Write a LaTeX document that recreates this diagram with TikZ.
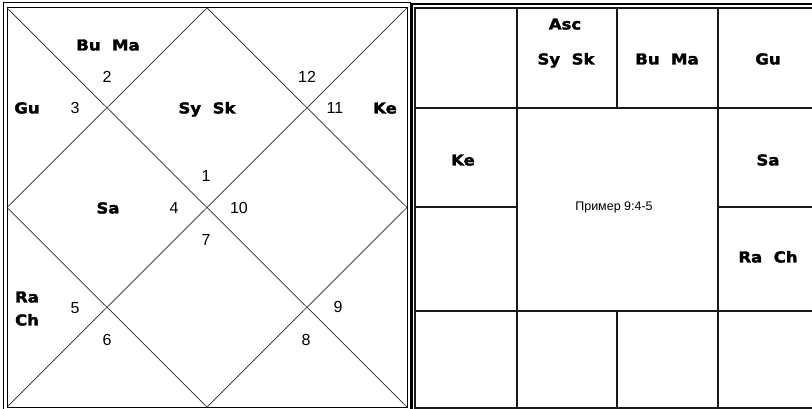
\documentclass[tikz,border=0pt]{standalone}
\usepackage{fontspec}
\setmainfont{Liberation Sans}
\newfontfamily\heavy{DejaVu Sans Bold}[FakeBold=2, FakeStretch=1.1]
\begin{document}
\begin{tikzpicture}[x=1pt, y=-1pt,
  frame/.style={line width=1pt, black},
  diag/.style={line width=0.7pt, black!85},
  grid/.style={line width=1.3pt, black!90},
  planet/.style={font=\heavy\fontsize{15}{15}\selectfont, inner sep=0pt, text height=10.9pt, text depth=0pt},
  num/.style={font=\fontsize{16}{16}\selectfont, inner sep=0pt, text height=11.5pt, text depth=0pt}]
\useasboundingbox (0,0) rectangle (812,409);
% north chart
\draw[frame] (3,3) rectangle (410,414);
\draw[frame] (7,8) rectangle (407,407);
\draw[diag] (7,8) -- (407,407) (407,8) -- (7,407);
\draw[diag] (207,8) -- (407,207.5) -- (207,407) -- (7,207.5) -- cycle;
\foreach \h/\x/\y in {1/206/176, 2/107/77, 3/75/108, 4/174/208, 5/75/308, 6/107/340,
                      7/206/240, 8/306/340, 9/338/307, 10/239/208, 11/335/108, 12/307/77}
  \node[num] (h\h) at (\x,\y) {\h};
\node[planet] (nbuma) at (108,45) {Bu~~Ma};
\node[planet] (ngu) at (27,108) {Gu};
\node[planet] (nsysk) at (207,108) {Sy~~Sk};
\node[planet] (nke) at (385,108) {Ke};
\node[planet] (nsa) at (108,208) {Sa};
\node[planet] (nra) at (27,297) {Ra};
\node[planet] (nch) at (27,320) {Ch};
% south chart
\draw[line width=1.4pt] (412,4) rectangle (840,430);
\draw[grid] (415,8) rectangle (830,408);
\foreach \y in {108,311}
  \draw[grid] (415,\y) -- (830,\y);
\foreach \x in {517,718}
  \draw[grid] (\x,8) -- (\x,408);
\draw[grid] (617,8) -- (617,108) (617,311) -- (617,408);
\draw[grid] (415,207) -- (517,207) (718,207) -- (830,207);
\node[planet] (sasc) at (565,24) {Asc};
\node[planet] (ssysk) at (566,59) {Sy~~Sk};
\node[planet] (sbuma) at (667,59) {Bu~~Ma};
\node[planet] (sgu) at (768,59) {Gu};
\node[planet] (ske) at (463,160) {Ke};
\node[planet] (ssa) at (768,160) {Sa};
\node[planet] (srach) at (768,257) {Ra~~Ch};
\node[font=\fontsize{12.5}{12.5}\selectfont, inner sep=0pt] (stitle) at (614,207) {Пример 9:4-5};
\end{tikzpicture}
\end{document}
